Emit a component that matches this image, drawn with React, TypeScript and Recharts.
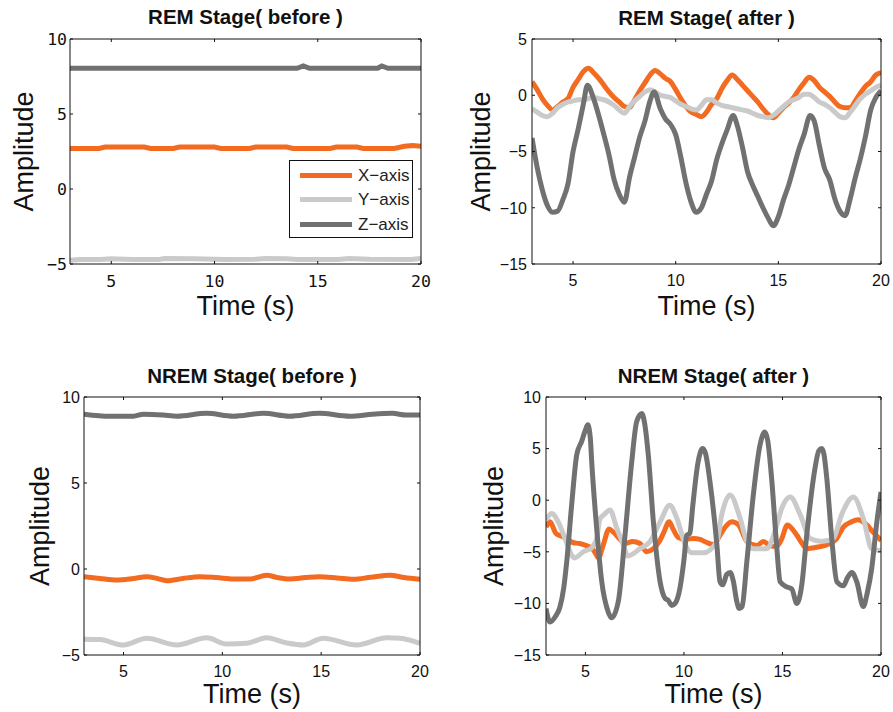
import { LineChart, Line, XAxis, YAxis, Legend, Label } from "recharts";

const ORANGE = "#F26B21";
const LIGHT = "#CACACA";
const DARK = "#717171";

type Pt = [number, number];

const timeTicks = [5, 10, 15, 20];
const beforeTicks = [-5, 0, 5, 10];
const remAfterTicks = [-15, -10, -5, 0, 5];
const nremAfterTicks = [-15, -10, -5, 0, 5, 10];

// REM Stage (before)
const remBeforeX: Pt[] = [[3, 2.7], [4.4, 2.7], [4.7, 2.8], [6.6, 2.8], [6.9, 2.7], [8.0, 2.7], [8.3, 2.8], [10.0, 2.8], [10.3, 2.7], [11.7, 2.7], [12.0, 2.8], [13.5, 2.8], [13.8, 2.7], [15.6, 2.7], [15.9, 2.8], [16.9, 2.8], [17.2, 2.7], [18.7, 2.7], [19.2, 2.85], [19.6, 2.9], [20, 2.85]];
const remBeforeY: Pt[] = [[3, -4.75], [3.5, -4.7], [4.5, -4.7], [5, -4.65], [6, -4.7], [7.3, -4.7], [7.6, -4.63], [9, -4.65], [10.5, -4.7], [12, -4.68], [12.5, -4.63], [13.5, -4.65], [14, -4.7], [16, -4.7], [16.5, -4.63], [17.5, -4.68], [19.5, -4.7], [20, -4.63]];
const remBeforeZ: Pt[] = [[3, 8.05], [14.0, 8.05], [14.3, 8.2], [14.6, 8.05], [17.9, 8.05], [18.1, 8.2], [18.4, 8.05], [20, 8.05]];

// REM Stage (after)
const remAfterX: Pt[] = [[3, 1.2], [3.25, 0.5], [3.5, -0.3], [3.75, -0.9], [4, -1.3], [4.25, -1.0], [4.5, -0.6], [4.75, -0.3], [5, 0.7], [5.25, 1.4], [5.5, 2.1], [5.75, 2.4], [6, 2.0], [6.25, 1.5], [6.5, 0.9], [6.75, 0.3], [7, -0.2], [7.25, -0.6], [7.5, -1.0], [7.75, -1.1], [8, -0.4], [8.25, 0.4], [8.5, 1.1], [8.75, 1.8], [9, 2.2], [9.25, 1.9], [9.5, 1.5], [9.75, 1.2], [10, 0.5], [10.25, -0.3], [10.5, -1.0], [10.75, -1.5], [11, -1.7], [11.25, -1.9], [11.5, -1.5], [11.75, -0.8], [12, -0.3], [12.25, 0.6], [12.5, 1.3], [12.75, 1.8], [13, 1.4], [13.25, 0.9], [13.5, 0.4], [13.75, -0.1], [14, -0.6], [14.25, -1.2], [14.5, -1.7], [14.75, -2.0], [15, -1.6], [15.25, -1.1], [15.5, -0.7], [15.75, -0.2], [16, 0.5], [16.25, 1.1], [16.5, 1.6], [16.75, 1.3], [17, 0.7], [17.25, 0.3], [17.5, -0.1], [17.75, -0.6], [18, -1.0], [18.25, -1.1], [18.5, -1.1], [18.75, -0.5], [19, 0.2], [19.25, 0.8], [19.5, 1.2], [19.75, 1.8], [20, 2.0]];
const remAfterY: Pt[] = [[3, -1.2], [3.25, -1.5], [3.5, -1.8], [3.75, -1.9], [4, -1.6], [4.25, -1.1], [4.5, -0.8], [4.75, -0.6], [5, -0.5], [5.25, -0.4], [5.5, -0.4], [5.75, -0.3], [6, -0.2], [6.25, -0.3], [6.5, -0.4], [6.75, -0.6], [7, -0.9], [7.25, -1.3], [7.5, -1.6], [7.75, -1.0], [8, -0.5], [8.25, -0.1], [8.5, 0.3], [8.75, 0.5], [9, 0.3], [9.25, 0.0], [9.5, -0.1], [9.75, -0.2], [10, -0.5], [10.25, -0.8], [10.5, -1.0], [10.75, -1.2], [11, -1.3], [11.25, -0.9], [11.5, -0.4], [11.75, -0.4], [12, -0.7], [12.25, -0.9], [12.5, -1.0], [12.75, -1.1], [13, -1.2], [13.25, -1.3], [13.5, -1.4], [13.75, -1.6], [14, -1.8], [14.25, -1.9], [14.5, -2.0], [14.75, -1.8], [15, -1.4], [15.25, -1.0], [15.5, -0.6], [15.75, -0.4], [16, -0.2], [16.25, 0.1], [16.5, 0.1], [16.75, -0.2], [17, -0.6], [17.25, -0.8], [17.5, -1.1], [17.75, -1.5], [18, -1.9], [18.25, -2.0], [18.5, -1.5], [18.75, -0.9], [19, -0.3], [19.25, 0.1], [19.5, 0.4], [19.75, 0.7], [20, 0.9]];
const remAfterZ: Pt[] = [[3, -3.8], [3.25, -6.4], [3.5, -8.4], [3.75, -9.8], [4, -10.4], [4.25, -10.3], [4.5, -9.3], [4.75, -7.9], [5, -5.0], [5.25, -3.0], [5.5, -0.8], [5.7, 0.9], [6, -0.3], [6.25, -1.8], [6.5, -3.5], [6.75, -5.3], [7, -7.5], [7.25, -8.8], [7.5, -9.5], [7.75, -7.3], [8, -5.5], [8.25, -3.7], [8.5, -2.3], [8.75, -0.5], [8.95, 0.3], [9.25, -1.2], [9.5, -2.1], [9.75, -2.6], [10, -3.5], [10.25, -5.5], [10.5, -7.8], [10.75, -9.5], [11, -10.4], [11.25, -10.0], [11.5, -8.8], [11.75, -7.6], [12, -5.7], [12.25, -4.3], [12.5, -3.1], [12.8, -1.8], [13, -2.7], [13.25, -4.6], [13.5, -6.8], [13.75, -8.0], [14, -9.0], [14.25, -10.0], [14.5, -10.9], [14.75, -11.6], [15, -10.8], [15.25, -9.3], [15.5, -8.0], [15.75, -6.4], [16, -4.8], [16.25, -3.5], [16.55, -1.8], [16.75, -2.3], [17, -4.5], [17.25, -6.5], [17.5, -7.5], [17.75, -9.2], [18, -10.3], [18.25, -10.7], [18.5, -9.2], [18.75, -7.3], [19, -5.6], [19.25, -3.6], [19.5, -1.3], [19.75, -0.2], [20, 0.4]];

// NREM Stage (before)
const nremBeforeX: Pt[] = [[3, -0.45], [3.8, -0.55], [4.65, -0.64], [5.5, -0.55], [6.17, -0.45], [6.7, -0.55], [7.18, -0.68], [8.0, -0.55], [8.87, -0.45], [9.7, -0.5], [10.56, -0.58], [11.4, -0.58], [12.24, -0.36], [12.8, -0.5], [13.4, -0.58], [14.2, -0.5], [14.9, -0.45], [15.8, -0.52], [16.63, -0.6], [17.5, -0.48], [18.48, -0.36], [19.2, -0.5], [20, -0.6]];
const nremBeforeY: Pt[] = [[3, -4.08], [3.81, -4.1], [4.99, -4.42], [6.17, -4.03], [7.69, -4.42], [9.21, -4.0], [10.22, -4.36], [11.23, -4.32], [12.24, -4.0], [13.26, -4.3], [14.1, -4.42], [15.1, -4.02], [16.8, -4.42], [18.32, -4.0], [19.0, -4.03], [20, -4.32]];
const nremBeforeZ: Pt[] = [[3, 9.0], [4.3, 8.88], [5.5, 8.88], [6.0, 9.0], [7.0, 8.95], [7.7, 8.88], [9.2, 9.05], [10.56, 8.88], [12.07, 9.05], [13.4, 8.88], [14.9, 9.05], [16.46, 8.88], [17.6, 9.0], [18.6, 9.05], [19.3, 8.95], [20, 8.95]];

// NREM Stage (after)
const nremAfterX: Pt[] = [[3, -2.6], [3.2, -2.1], [3.5, -3.2], [3.8, -3.5], [4.05, -3.7], [4.35, -4.1], [4.7, -4.2], [5.05, -4.4], [5.3, -4.6], [5.5, -5.1], [5.66, -5.6], [5.91, -4.3], [6.2, -2.8], [6.42, -3.1], [6.76, -3.8], [7.0, -4.2], [7.4, -4.0], [7.77, -4.2], [8.1, -5.0], [8.45, -4.7], [8.75, -4.0], [8.96, -3.2], [9.25, -2.1], [9.45, -2.8], [9.7, -3.6], [10.06, -3.8], [10.48, -3.7], [10.82, -3.8], [11.16, -4.1], [11.5, -4.3], [11.83, -3.4], [12.1, -2.6], [12.43, -2.1], [12.77, -2.4], [13.19, -4.0], [13.7, -4.4], [14.03, -4.0], [14.37, -4.4], [14.68, -4.5], [14.95, -3.8], [15.25, -2.4], [15.5, -2.8], [15.73, -3.4], [16.0, -4.2], [16.23, -4.7], [16.6, -4.6], [16.9, -4.5], [17.4, -4.2], [17.72, -3.8], [18.09, -2.6], [18.5, -2.1], [18.82, -1.9], [19.28, -2.4], [19.6, -3.1], [20, -3.9]];
const nremAfterY: Pt[] = [[3, -1.9], [3.29, -1.3], [3.62, -2.1], [3.96, -3.7], [4.3, -5.3], [4.45, -5.6], [4.89, -5.0], [5.32, -4.6], [5.57, -3.7], [5.74, -1.8], [5.95, -1.4], [6.25, -0.95], [6.59, -2.7], [6.92, -4.3], [7.15, -5.4], [7.77, -4.7], [8.28, -4.0], [8.79, -2.1], [9.28, -0.5], [9.64, -1.75], [10.06, -4.3], [10.4, -5.1], [10.99, -5.1], [11.67, -4.0], [11.92, -1.4], [12.34, 0.5], [12.85, -1.75], [13.19, -4.0], [13.52, -4.7], [14.2, -4.7], [14.62, -3.0], [14.96, -0.8], [15.39, 0.3], [15.9, -1.4], [16.4, -3.7], [16.99, -4.0], [17.58, -3.7], [18.0, -1.4], [18.6, 0.3], [19.1, -1.75], [19.53, -4.7], [20, -4.9]];
const nremAfterZ: Pt[] = [[3, -10.5], [3.2, -11.8], [3.5, -11.2], [3.7, -10.4], [3.9, -8.5], [4.05, -6.0], [4.3, -0.5], [4.56, 4.4], [4.81, 5.7], [5.0, 6.8], [5.12, 7.3], [5.25, 6.0], [5.32, 3.7], [5.57, -2.7], [5.83, -7.9], [6.1, -10.5], [6.33, -11.4], [6.67, -9.8], [7.01, -3.4], [7.35, 3.7], [7.6, 7.6], [7.86, 8.4], [8.0, 7.5], [8.19, 4.4], [8.45, -2.1], [8.79, -7.9], [9.04, -9.5], [9.2, -9.7], [9.38, -10.2], [9.55, -10.0], [9.8, -8.5], [10.0, -5.8], [10.14, -3.4], [10.3, -3.2], [10.45, -0.5], [10.7, 3.5], [10.95, 5.0], [11.1, 4.5], [11.32, 1.8], [11.67, -4.3], [11.83, -7.9], [11.97, -8.2], [12.17, -7.2], [12.35, -7.0], [12.5, -7.8], [12.68, -9.8], [12.81, -10.5], [12.95, -10.3], [13.19, -6.0], [13.52, 0.5], [13.86, 5.35], [14.1, 6.6], [14.25, 5.8], [14.45, 2.1], [14.7, -4.3], [14.88, -7.9], [15.22, -8.4], [15.47, -8.6], [15.73, -10.0], [15.98, -8.2], [16.23, -3.4], [16.57, 2.1], [16.85, 4.8], [16.99, 5.0], [17.1, 4.5], [17.25, 2.1], [17.5, -3.7], [17.76, -7.9], [18.09, -8.3], [18.3, -7.5], [18.52, -7.0], [18.77, -7.9], [19.1, -10.3], [19.3, -9.0], [19.53, -6.6], [19.79, -2.1], [20, 0.8]];

const rows = (pts: Pt[]) => pts.map(([t, v]) => ({ t, v }));
const fmt = (v: number) => String(v).replace("-", "\u2212");

const SANS = "'Liberation Sans', Arial, sans-serif";
const MONO = "'DejaVu Sans Mono', monospace";
const TICK = 3;

function AxisLegend({ payload }: any) {
  return (
    <div style={{ width: 124, height: 78, boxSizing: "border-box", border: "1px solid #111", background: "#fff", paddingTop: 2.5 }}>
      {(payload ?? []).map((p: any) => (
        <div key={p.value} style={{ display: "flex", alignItems: "center", height: 24.3 }}>
          <div style={{ marginLeft: 10, width: 52, height: 5, background: p.color }} />
          <span style={{ marginLeft: 6, fontFamily: SANS, fontSize: 17, color: "#222", lineHeight: 1 }}>{p.value}</span>
        </div>
      ))}
    </div>
  );
}

type PanelProps = {
  title: string;
  box: [number, number, number, number]; // plot left, right, top, bottom (page px)
  yDomain: [number, number];
  yTicks: number[];
  x: Pt[]; y: Pt[]; z: Pt[];
  curve: "linear" | "monotone";
  tickFont: string;
  tickSize: number;
  xBase: number;
  yGap: number;
  yLabelOffset: number;
  xLabelOffset: number;
  titleOffset: number;
  legend?: boolean;
};

function Panel(p: PanelProps) {
  const [l, r, t, b] = p.box;
  // the top x axis and right y axis are 1px "frame" axes
  const ml = 10, mt = 35, mr = 14, yw = 60, xh = 60;
  const w = ml + yw + (r - l) + mr + 1;
  const h = mt + 1 + (b - t) + xh;
  const left = l - yw - ml;
  const top = t - mt - 1;
  const axisLine = { stroke: "#111", strokeWidth: 1 };
  const blank = () => "";
  const font = { fontFamily: p.tickFont, fontSize: p.tickSize, fill: "#111" };
  const xTick = ({ x, payload }: any) => (
    <text x={x} y={b - top + p.xBase} textAnchor="middle" {...font}>{fmt(payload.value)}</text>
  );
  const yTick = ({ y, payload }: any) => (
    <text x={l - left - p.yGap} y={y} dy={p.tickSize * 0.36} textAnchor="end" {...font}>{fmt(payload.value)}</text>
  );
  return (
    <div style={{ position: "absolute", left, top }}>
      <LineChart width={w} height={h} margin={{ top: mt, right: mr, left: ml, bottom: 0 }}>
        <XAxis xAxisId="b" dataKey="t" type="number" domain={[3, 20]} ticks={timeTicks} interval={0} allowDataOverflow
          height={xh} tickSize={-TICK} tick={xTick} axisLine={axisLine} tickLine={axisLine}>
          <Label value="Time (s)" position="insideBottom" offset={p.xLabelOffset} fontSize={27} fontFamily={SANS} fill="#111" />
        </XAxis>
        <XAxis xAxisId="t" orientation="top" dataKey="t" type="number" domain={[3, 20]} ticks={timeTicks} interval={0} allowDataOverflow
          height={1} tickSize={-TICK} tickFormatter={blank} axisLine={axisLine} tickLine={axisLine}>
          <Label value={p.title} position="top" offset={p.titleOffset} fontSize={20.5} fontWeight="bold" fontFamily={SANS} fill="#111" />
        </XAxis>
        <YAxis yAxisId="l" type="number" domain={p.yDomain} ticks={p.yTicks} interval={0} allowDataOverflow
          width={yw} tickSize={-TICK} tick={yTick} axisLine={axisLine} tickLine={axisLine}>
          <Label value="Amplitude" angle={-90} position="insideLeft" offset={p.yLabelOffset} textAnchor="middle" fontSize={27} fontFamily={SANS} fill="#111" />
        </YAxis>
        <YAxis yAxisId="r" orientation="right" type="number" domain={p.yDomain} ticks={p.yTicks} interval={0} allowDataOverflow
          width={1} tickSize={-TICK} tickFormatter={blank} axisLine={axisLine} tickLine={axisLine} />
        {p.legend && (
          <Legend layout="vertical" align="center" verticalAlign="middle" content={AxisLegend}
            wrapperStyle={{ left: 289 - left, top: 160 - top, width: 124 }} />
        )}
        <Line xAxisId="b" yAxisId="l" data={rows(p.x)} dataKey="v" name={"X\u2212axis"} type={p.curve} stroke={ORANGE} strokeWidth={5} dot={false} isAnimationActive={false} />
        <Line xAxisId="b" yAxisId="l" data={rows(p.y)} dataKey="v" name={"Y\u2212axis"} type={p.curve} stroke={LIGHT} strokeWidth={5} dot={false} isAnimationActive={false} />
        <Line xAxisId="b" yAxisId="l" data={rows(p.z)} dataKey="v" name={"Z\u2212axis"} type={p.curve} stroke={DARK} strokeWidth={5} dot={false} isAnimationActive={false} />
      </LineChart>
    </div>
  );
}

export default function App() {
  return (
    <div style={{ position: "absolute", left: 0, top: 0, width: 893, height: 712, background: "#fff", overflow: "hidden" }}>
      <Panel title="REM Stage( before )" box={[70, 421, 39, 264]} yDomain={[-5, 10]} yTicks={beforeTicks}
        x={remBeforeX} y={remBeforeY} z={remBeforeZ} curve="linear" tickFont={MONO} tickSize={16.5}
        xBase={23} yGap={3} yLabelOffset={13.7} xLabelOffset={9} titleOffset={14} legend />
      <Panel title="REM Stage( after )" box={[532, 881, 39, 264]} yDomain={[-15, 5]} yTicks={remAfterTicks}
        x={remAfterX} y={remAfterY} z={remAfterZ} curve="monotone" tickFont={SANS} tickSize={16}
        xBase={22} yGap={5} yLabelOffset={8} xLabelOffset={9} titleOffset={13} />
      <Panel title="NREM Stage( before )" box={[84, 420, 397, 655]} yDomain={[-5, 10]} yTicks={beforeTicks}
        x={nremBeforeX} y={nremBeforeY} z={nremBeforeZ} curve="monotone" tickFont={SANS} tickSize={16}
        xBase={22} yGap={4} yLabelOffset={15} xLabelOffset={12} titleOffset={13} />
      <Panel title="NREM Stage( after )" box={[546, 881, 397, 655]} yDomain={[-15, 10]} yTicks={nremAfterTicks}
        x={nremAfterX} y={nremAfterY} z={nremAfterZ} curve="monotone" tickFont={SANS} tickSize={16}
        xBase={22} yGap={5} yLabelOffset={7} xLabelOffset={12} titleOffset={13} />
    </div>
  );
}
